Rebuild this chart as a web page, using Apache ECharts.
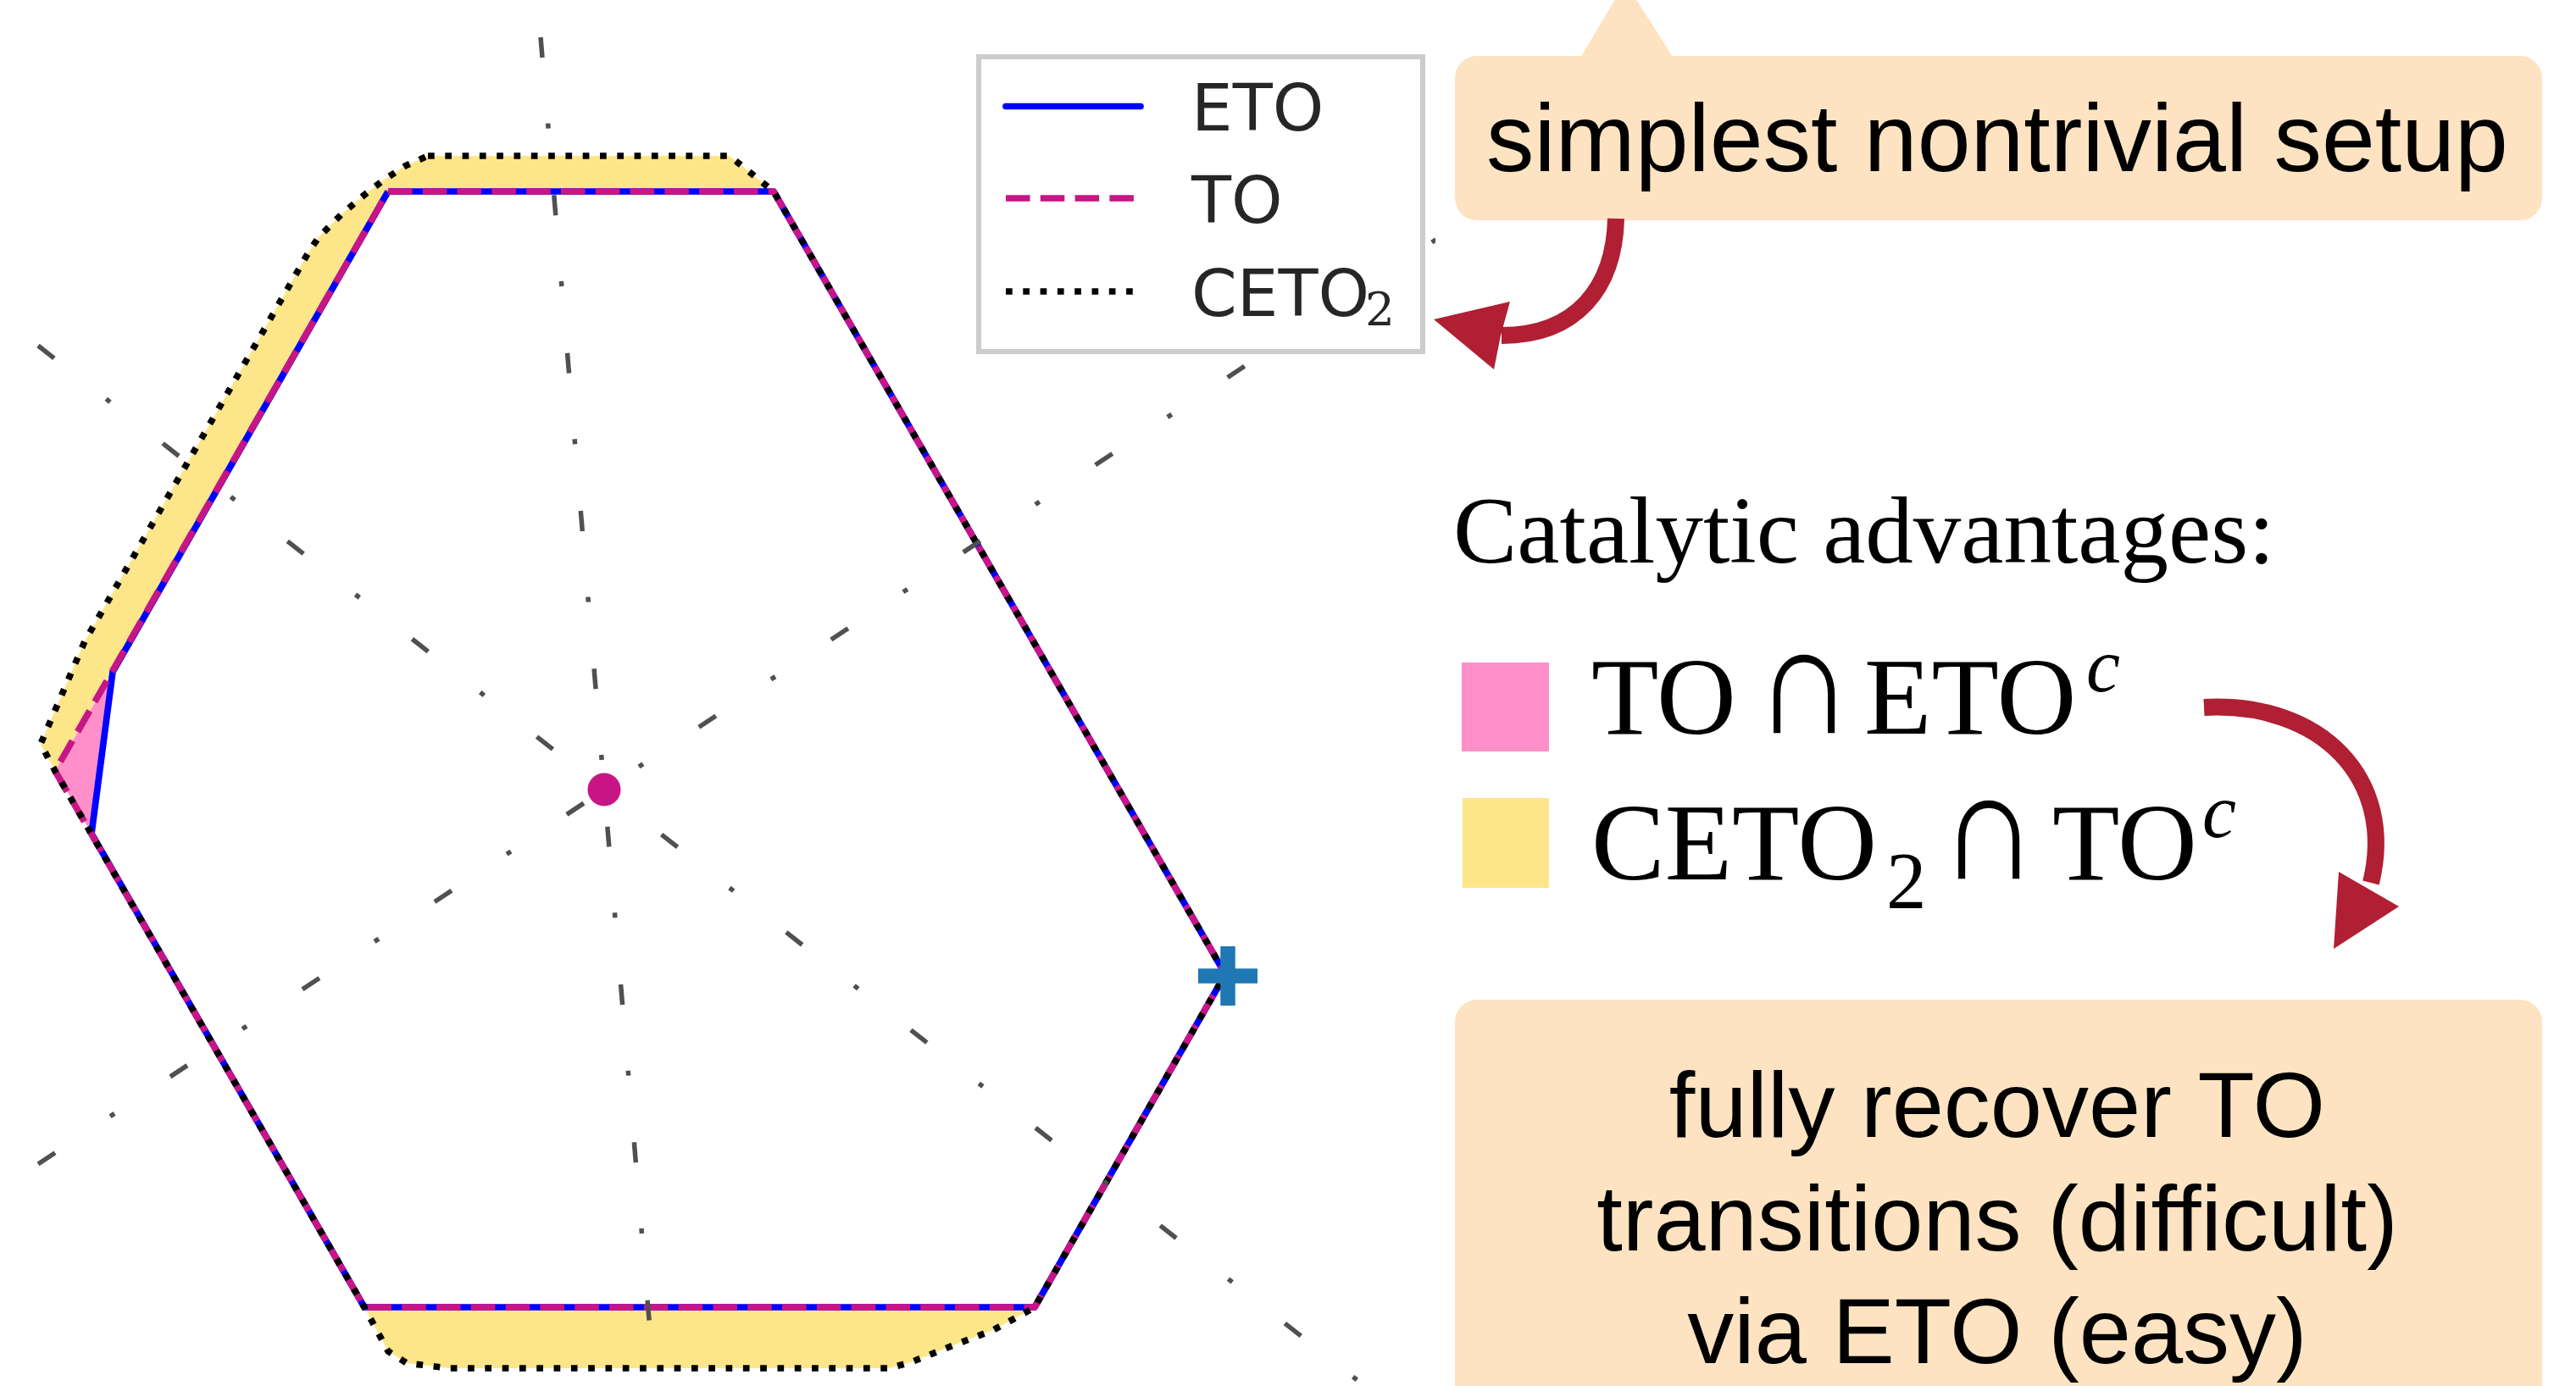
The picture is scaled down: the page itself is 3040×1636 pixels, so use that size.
<!DOCTYPE html>
<html>
<head>
<meta charset="utf-8">
<script src="https://cdn.jsdelivr.net/npm/echarts@6/dist/echarts.min.js"></script>
<style>
  html, body { margin: 0; padding: 0; background: #ffffff; }
  #chart { width: 3040px; height: 1636px; }
</style>
</head>
<body>
<div id="chart"></div>
<script>
// ---- Polytope vertices (plane coordinates, maximally mixed state at the origin) ----
const CENTER = [0, 0];
const EXTREME_POINT = [7.36, -2.20];

const ETO = [
  [-2.55, 7.06], [2.00, 7.06], [7.33, -2.18], [5.08, -6.11],
  [-2.83, -6.11], [-6.05, -0.52], [-5.80, 1.39], [-2.55, 7.06]
];
const TO = [
  [-2.55, 7.06], [2.00, 7.06], [7.33, -2.18], [5.08, -6.11],
  [-2.83, -6.11], [-6.48, 0.22], [-2.55, 7.06]
];
const CETO2 = [
  [-2.08, 7.48], [1.48, 7.48], [2.00, 7.06], [7.33, -2.18], [5.08, -6.11],
  [4.96, -6.18], [4.59, -6.38], [4.07, -6.58], [3.62, -6.76], [3.36, -6.83],
  [-1.83, -6.83], [-2.33, -6.77], [-2.55, -6.63], [-2.83, -6.11],
  [-6.48, 0.22], [-6.65, 0.54], [-6.13, 1.75], [-3.49, 6.34], [-3.37, 6.52],
  [-3.10, 6.79], [-2.83, 7.02], [-2.61, 7.19], [-2.35, 7.36], [-2.08, 7.48]
];
// part of TO that ETO misses
const TO_NOT_ETO = [[-5.80, 1.39], [-6.48, 0.22], [-6.05, -0.52]];

// symmetry axes through the centre (start point, far end point)
const AXIS_LINES = [
  [[-0.75, 8.88], [0.82, -9.68]],
  [[-6.68, 5.24], [11.87, -9.31]],
  [[-6.68, -4.42], [11.87, 7.85]]
];

// ---- Text ----
const LEGEND_NAMES = ['ETO', 'TO', 'CETO'];
const LEGEND_SUB = '2';
const CALLOUT_TOP = 'simplest nontrivial setup';
const HEADING = 'Catalytic advantages:';
const CALLOUT_BOTTOM = ['fully recover TO', 'transitions (difficult)', 'via ETO (easy)'];

// ---- Styles ----
const C_ETO = '#0000ff', C_TO = '#c71585', C_CETO = '#000000', C_AXIS = '#505050';
const C_PINK = '#ff8fc8', C_YELLOW = '#fde68a', C_DOT = '#c71585', C_PLUS = '#1f77b4';
const C_BOX = '#fee3c2', C_ARROW = '#b01f33', C_LEG = '#262626';
const LW = 7.7;
const DASHED = [28.5, 12.3];
const DOTTED = [7.7, 12.6];
const DASHDOT = [24, 78, 6, 79];

const SANS = '"Liberation Sans", Arial, Helvetica, sans-serif';
const SERIF = '"Liberation Serif", "Times New Roman", "DejaVu Serif", serif';
const DJV = '"DejaVu Sans", sans-serif';
const K = 0.31; // canvas "middle" baseline offset (fraction of font size)

function txt(x, base, text, size, family, extra, scale) {
  const el = {
    type: 'text', z: 100, silent: true, x: x, y: base - K * size,
    style: Object.assign({
      text: text, fontSize: size, fontFamily: family, fill: '#000',
      textAlign: 'left', textVerticalAlign: 'middle', align: 'left', verticalAlign: 'middle'
    }, extra || {})
  };
  if (scale) {
    // stretch the glyph, keeping its baseline and left edge anchored
    el.scaleX = scale[0];
    el.scaleY = scale[1];
    el.originX = 0;
    el.originY = K * size;
  }
  return el;
}

function outline(name, pts, color, type, z) {
  return {
    type: 'line', name: name, data: pts, symbol: 'none', showSymbol: false,
    silent: true, animation: false, z: z, clip: true,
    lineStyle: { color: color, width: LW, type: type, cap: 'butt', join: 'round' }
  };
}

function region(pts, color, z) {
  return {
    type: 'custom', silent: true, animation: false, z: z, clip: true,
    data: [[0, 0]],
    renderItem: function (params, api) {
      return { type: 'polygon', shape: { points: pts.map(function (p) { return api.coord(p); }) },
               style: { fill: color, stroke: null } };
    }
  };
}

const series = [
  region(CETO2, C_YELLOW, 1),
  region(TO, '#ffffff', 1.1),
  region(TO_NOT_ETO, C_PINK, 1.2),
  outline('ETO', ETO, C_ETO, 'solid', 3),
  outline('TO', TO, C_TO, DASHED, 4),
  outline('CETO2', CETO2, C_CETO, DOTTED, 5)
];
AXIS_LINES.forEach(function (seg) {
  series.push({
    type: 'line', data: seg, symbol: 'none', showSymbol: false, silent: true,
    animation: false, z: 6, clip: true,
    lineStyle: { color: C_AXIS, width: 5.5, type: DASHDOT, dashOffset: 0, cap: 'butt' }
  });
});
series.push({
  type: 'scatter', data: [CENTER], symbol: 'circle', symbolSize: 39, silent: true,
  animation: false, z: 8, itemStyle: { color: C_DOT, opacity: 1 }
});
series.push({
  type: 'scatter', data: [EXTREME_POINT], silent: true, animation: false, z: 9,
  symbol: 'path://M6.75,0H11.25V6.75H18V11.25H11.25V18H6.75V11.25H0V6.75H6.75Z',
  symbolSize: 70, itemStyle: { color: C_PLUS, opacity: 1 }
});

// ---- Legend box for the three outlines ----
const legendRows = [125.5, 234, 344];
const legendStyles = [
  { stroke: C_ETO, lineDash: null, lineCap: 'round' },
  { stroke: C_TO, lineDash: DASHED, lineCap: 'butt' },
  { stroke: C_CETO, lineDash: DOTTED, lineCap: 'butt' }
];
const graphics = [];
graphics.push({
  type: 'rect', z: 99, silent: true,
  shape: { x: 1155, y: 67, width: 524, height: 348 },
  style: { fill: '#ffffff', stroke: '#cccccc', lineWidth: 6 }
});
LEGEND_NAMES.forEach(function (name, i) {
  const y = legendRows[i];
  graphics.push({
    type: 'line', z: 100, silent: true,
    shape: { x1: 1187, y1: y, x2: 1346, y2: y },
    style: { stroke: legendStyles[i].stroke, lineWidth: LW, lineDash: legendStyles[i].lineDash, lineCap: legendStyles[i].lineCap }
  });
  graphics.push(txt(1406, y + 32.5, name, 77, DJV, { fill: C_LEG }));
});
graphics.push(txt(1611, 387, LEGEND_SUB, 55, '"DejaVu Serif", serif', { fill: C_LEG }));

// ---- Upper callout ----
graphics.push({ type: 'polygon', z: 90, silent: true,
  shape: { points: [[1864, 70], [1976, 70], [1918, -21]] }, style: { fill: C_BOX } });
graphics.push({ type: 'rect', z: 90, silent: true,
  shape: { x: 1717, y: 66, width: 1283, height: 194, r: 26 }, style: { fill: C_BOX } });
graphics.push(txt(1754, 206, CALLOUT_TOP, 113, SANS));

// arrow from the callout towards the legend
graphics.push({ type: 'bezierCurve', z: 95, silent: true,
  shape: { x1: 1907, y1: 258, cpx1: 1905, cpy1: 340, cpx2: 1860, cpy2: 396, x2: 1772, y2: 396 },
  style: { stroke: C_ARROW, lineWidth: 20, fill: null, lineCap: 'butt' } });
graphics.push({ type: 'polygon', z: 96, silent: true,
  shape: { points: [[1782, 356], [1692, 377], [1763, 436], [1771, 396]] }, style: { fill: C_ARROW } });

// ---- Region key ----
graphics.push(txt(1715, 669, HEADING, 113, SERIF));
graphics.push({ type: 'rect', z: 100, silent: true,
  shape: { x: 1725, y: 782, width: 103, height: 105 }, style: { fill: C_PINK } });
graphics.push({ type: 'rect', z: 100, silent: true,
  shape: { x: 1726, y: 942, width: 102, height: 106 }, style: { fill: C_YELLOW } });

const CAP_SCALE = [1.24, 1.41];
graphics.push(txt(1878, 872, 'TO', 130, SERIF));
graphics.push(txt(2071, 874, '\u2229', 130, SERIF, null, CAP_SCALE));
graphics.push(txt(2200, 872, 'ETO', 130, SERIF));
graphics.push(txt(2462, 820, 'c', 90, SERIF, { fontStyle: 'italic' }));

graphics.push(txt(1878, 1044, 'CETO', 130, SERIF));
graphics.push(txt(2226, 1076, '2', 95, SERIF));
graphics.push(txt(2289, 1046, '\u2229', 130, SERIF, null, CAP_SCALE));
graphics.push(txt(2422, 1044, 'TO', 130, SERIF));
graphics.push(txt(2599, 992, 'c', 90, SERIF, { fontStyle: 'italic' }));

// arrow from the key down to the lower callout
graphics.push({ type: 'bezierCurve', z: 95, silent: true,
  shape: { x1: 2601, y1: 835, cpx1: 2740, cpy1: 828, cpx2: 2828, cpy2: 920, x2: 2798, y2: 1042 },
  style: { stroke: C_ARROW, lineWidth: 20, fill: null, lineCap: 'butt' } });
graphics.push({ type: 'polygon', z: 96, silent: true,
  shape: { points: [[2760, 1029], [2831, 1070], [2754, 1120]] }, style: { fill: C_ARROW } });

// ---- Lower callout ----
graphics.push({ type: 'rect', z: 90, silent: true,
  shape: { x: 1717, y: 1180, width: 1283, height: 520, r: 26 }, style: { fill: C_BOX } });
const bottomBaselines = [1346, 1480, 1613];
CALLOUT_BOTTOM.forEach(function (line, i) {
  graphics.push(txt(2357, bottomBaselines[i], line, 110, SANS, { textAlign: 'center', align: 'center' }));
});

const chart = echarts.init(document.getElementById('chart'), null, { renderer: 'canvas' });
chart.setOption({
  animation: false,
  backgroundColor: '#ffffff',
  grid: { left: 44, top: 0, width: 1646, height: 1636, containLabel: false },
  xAxis: { type: 'value', min: -6.69, max: 9.77, show: false },
  yAxis: { type: 'value', min: -7.04, max: 9.32, show: false },
  series: series,
  graphic: graphics
});
</script>
</body>
</html>
